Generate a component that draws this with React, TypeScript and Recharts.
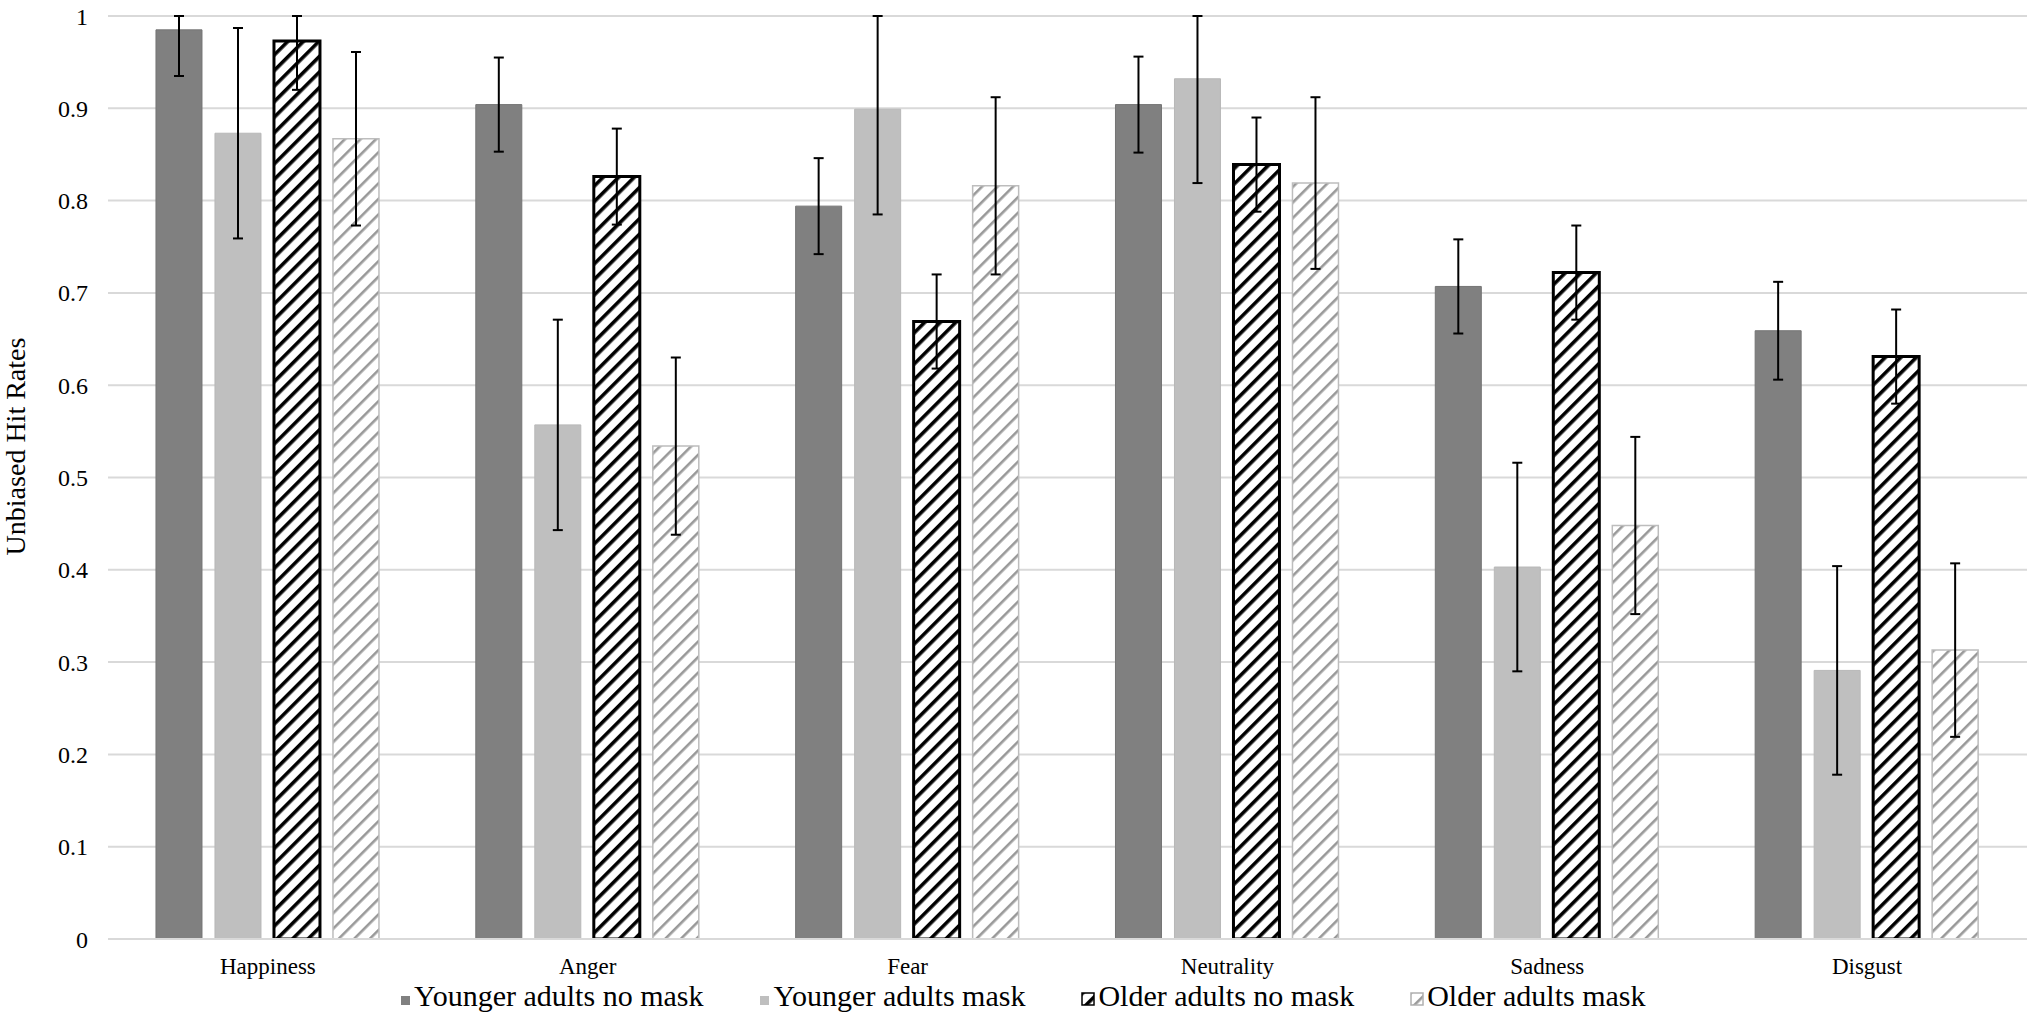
import React from 'react';
import { BarChart, Bar, XAxis, YAxis, CartesianGrid, ErrorBar, Legend, Label } from 'recharts';

const emotions = ['Happiness', 'Anger', 'Fear', 'Neutrality', 'Sadness', 'Disgust'];

const youngNoMask = [0.985, 0.904, 0.794, 0.904, 0.707, 0.659];
const youngNoMaskErr = [0.05, 0.051, 0.052, 0.052, 0.051, 0.053];
const youngMask = [0.873, 0.557, 0.899, 0.932, 0.403, 0.291];
const youngMaskErr = [0.114, 0.114, 0.114, 0.113, 0.113, 0.113];
const oldNoMask = [0.973, 0.826, 0.669, 0.839, 0.722, 0.631];
const oldNoMaskErr = [0.053, 0.052, 0.051, 0.051, 0.051, 0.051];
const oldMask = [0.867, 0.534, 0.816, 0.819, 0.448, 0.313];
const oldMaskErr = [0.094, 0.096, 0.096, 0.093, 0.096, 0.094];

const yTicks = [0, 0.1, 0.2, 0.3, 0.4, 0.5, 0.6, 0.7, 0.8, 0.9, 1];
const yMax = 1;

const seriesNames = ['Younger adults no mask', 'Younger adults mask', 'Older adults no mask', 'Older adults mask'];

// whiskers are cut at the top of the axis, as in the original figure
const whisker = (v: number, e: number) => [e, Math.min(e, yMax - v)];

const data = emotions.map((name, i) => ({
  name,
  youngNoMask: youngNoMask[i],
  youngNoMaskErr: whisker(youngNoMask[i], youngNoMaskErr[i]),
  youngMask: youngMask[i],
  youngMaskErr: whisker(youngMask[i], youngMaskErr[i]),
  oldNoMask: oldNoMask[i],
  oldNoMaskErr: whisker(oldNoMask[i], oldNoMaskErr[i]),
  oldMask: oldMask[i],
  oldMaskErr: whisker(oldMask[i], oldMaskErr[i]),
}));

const FONT = "'Liberation Serif', 'Times New Roman', serif";

const markerStyles = [
  { fill: '#808080', stroke: 'none', size: 9 },
  { fill: '#bfbfbf', stroke: 'none', size: 9 },
  { fill: 'url(#blackHatch)', stroke: '#000', size: 12 },
  { fill: 'url(#grayHatch)', stroke: '#b0b0b0', size: 12 },
];

const renderLegend = () => (
  <div style={{ display: 'flex', height: 44, paddingLeft: 400, gap: 56, fontFamily: FONT, fontSize: 30, lineHeight: '24px', color: '#000' }}>
    {seriesNames.map((n, i) => {
      const m = markerStyles[i];
      return (
        <div key={n} style={{ display: 'flex', alignItems: 'baseline', whiteSpace: 'nowrap' }}>
          <svg width={m.size + 2} height={m.size + 2} style={{ marginRight: 3 }}>
            <rect x={1} y={1} width={m.size} height={m.size} fill={m.fill} stroke={m.stroke} strokeWidth={m.stroke === 'none' ? 0 : 1.5} />
          </svg>
          <span>{n}</span>
        </div>
      );
    })}
  </div>
);

const YLabel = ({ viewBox }: any) => {
  const x = viewBox.x + 25;
  const y = viewBox.y + viewBox.height / 2 - 31;
  return (
    <text x={x} y={y} transform={`rotate(-90, ${x}, ${y})`} textAnchor="middle" fontFamily={FONT} fontSize={28} fill="#000">
      Unbiased Hit Rates
    </text>
  );
};

export default function App() {
  return (
    <div style={{ position: 'absolute', left: 0, top: 0, background: '#fff' }}>
      <BarChart
        width={2032}
        height={1028}
        data={data}
        margin={{ top: 16, right: 5, bottom: 0, left: 0 }}
        barCategoryGap="15%"
        barGap={13}
      >
        <defs>
          <pattern id="blackHatch" patternUnits="userSpaceOnUse" width={11} height={11} patternTransform="rotate(45)">
            <rect width={11} height={11} fill="#fff" />
            <rect width={3.6} height={11} fill="#000" />
          </pattern>
          <pattern id="grayHatch" patternUnits="userSpaceOnUse" width={11} height={11} patternTransform="rotate(45)">
            <rect width={11} height={11} fill="#fff" />
            <rect width={2.6} height={11} fill="#999" />
          </pattern>
        </defs>
        <CartesianGrid vertical={false} stroke="#d9d9d9" strokeWidth={2} />
        <XAxis
          dataKey="name"
          height={45}
          axisLine={{ stroke: '#d9d9d9', strokeWidth: 2 }}
          tickLine={false}
          tickMargin={13}
          tick={{ fontFamily: FONT, fontSize: 23, fill: '#000' }}
        />
        <YAxis
          width={108}
          domain={[0, yMax]}
          ticks={yTicks}
          allowDataOverflow
          axisLine={false}
          tickLine={false}
          tickMargin={14}
          tick={{ fontFamily: FONT, fontSize: 24, fill: '#000' }}
        >
          <Label content={<YLabel />} />
        </YAxis>
        <Legend verticalAlign="bottom" content={renderLegend} />
        <Bar dataKey="youngNoMask" name={seriesNames[0]} fill="#808080" stroke="#747474" strokeWidth={1} isAnimationActive={false}>
          <ErrorBar dataKey="youngNoMaskErr" width={5} stroke="#000" strokeWidth={2} />
        </Bar>
        <Bar dataKey="youngMask" name={seriesNames[1]} fill="#bfbfbf" stroke="#b8b8b8" strokeWidth={1} isAnimationActive={false}>
          <ErrorBar dataKey="youngMaskErr" width={5} stroke="#000" strokeWidth={2} />
        </Bar>
        <Bar dataKey="oldNoMask" name={seriesNames[2]} fill="url(#blackHatch)" stroke="#000" strokeWidth={3} isAnimationActive={false}>
          <ErrorBar dataKey="oldNoMaskErr" width={5} stroke="#000" strokeWidth={2} />
        </Bar>
        <Bar dataKey="oldMask" name={seriesNames[3]} fill="url(#grayHatch)" stroke="#bdbdbd" strokeWidth={1.5} isAnimationActive={false}>
          <ErrorBar dataKey="oldMaskErr" width={5} stroke="#000" strokeWidth={2} />
        </Bar>
      </BarChart>
    </div>
  );
}
